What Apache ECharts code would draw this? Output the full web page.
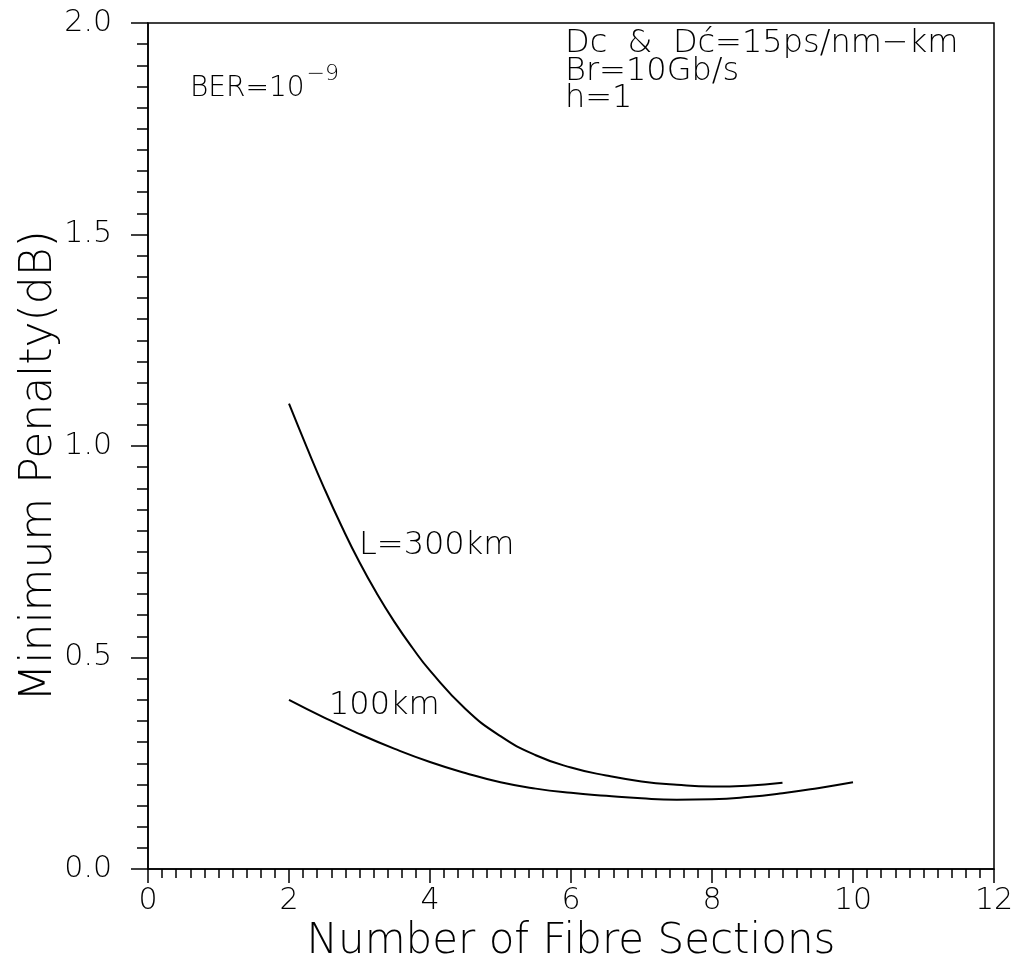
<!DOCTYPE html>
<html>
<head>
<meta charset="utf-8">
<script src="https://cdn.jsdelivr.net/npm/echarts@6/dist/echarts.min.js"></script>
<style>html,body{margin:0;padding:0;background:#fff}#c{width:1027px;height:961px}</style>
</head>
<body>
<div id="c"></div>
<script>
// Data
const x300 = [2, 2.25, 2.5, 2.75, 3, 3.25, 3.5, 3.75, 4, 4.5, 5, 5.5, 6, 6.5, 7, 7.5, 8, 8.5, 9];
const y300 = [1.10, 0.998, 0.900, 0.809, 0.725, 0.650, 0.583, 0.523, 0.469, 0.379, 0.314, 0.269, 0.240, 0.221, 0.207, 0.199, 0.195, 0.197, 0.204];
const x100 = [2, 2.5, 3, 3.5, 4, 4.5, 5, 5.5, 6, 6.5, 7, 7.5, 8, 8.5, 9, 9.5, 10];
const y100 = [0.400, 0.358, 0.319, 0.284, 0.253, 0.227, 0.205, 0.190, 0.180, 0.173, 0.167, 0.164, 0.165, 0.170, 0.179, 0.191, 0.205];
const xTicks = [0, 2, 4, 6, 8, 10, 12];
const yTicks = [0.0, 0.5, 1.0, 1.5, 2.0];
const xTitle = 'Number of Fibre Sections';
const yTitle = 'Minimum Penalty(dB)';

const FONT = 'DejaVu Sans';
const chart = echarts.init(document.getElementById('c'), null, {renderer: 'canvas'});
const pair = (xs, ys) => xs.map((x, i) => [x, ys[i]]);
const txt = (left, top, text, size) => ({type: 'text', left, top,
  style: {text, fontFamily: FONT, fontSize: size, fontWeight: 200, fill: '#000'}});

chart.setOption({
  backgroundColor: '#fff',
  animation: false,
  grid: {left: 148, right: 33, top: 23, bottom: 92, containLabel: false, outerBoundsMode: 'none',
    show: true, borderColor: '#000', borderWidth: 1.5, backgroundColor: 'transparent'},
  xAxis: {
    type: 'value', min: 0, max: 12, interval: 2,
    name: xTitle, nameLocation: 'middle', nameGap: 52, nameMoveOverlap: false,
    nameTextStyle: {fontFamily: FONT, fontSize: 42, fontWeight: 200, color: '#000'},
    axisLine: {show: true, onZero: false, lineStyle: {color: '#000', width: 1.5}},
    axisTick: {show: true, inside: false, length: 14, lineStyle: {color: '#000', width: 1.5}},
    minorTick: {show: true, splitNumber: 10, length: 9, lineStyle: {color: '#000', width: 1.5}},
    splitLine: {show: false},
    axisLabel: {fontFamily: FONT, fontSize: 30, fontWeight: 200, color: '#000', margin: 17,
      formatter: v => xTicks.includes(v) ? String(v) : ''}
  },
  yAxis: {
    type: 'value', min: 0, max: 2, interval: 0.5,
    name: yTitle, nameLocation: 'middle', nameGap: 86, nameMoveOverlap: false,
    nameTextStyle: {fontFamily: FONT, fontSize: 44, fontWeight: 200, color: '#000', padding: [0, 40, 0, 0]},
    axisLine: {show: true, onZero: false, lineStyle: {color: '#000', width: 1.5}},
    axisTick: {show: true, inside: false, length: 17, lineStyle: {color: '#000', width: 1.5}},
    minorTick: {show: true, splitNumber: 10, length: 11, lineStyle: {color: '#000', width: 1.5}},
    splitLine: {show: false},
    axisLabel: {fontFamily: FONT, fontSize: 30, fontWeight: 200, color: '#000', margin: 36,
      formatter: v => { const t = yTicks.find(k => Math.abs(k - v) < 1e-9); return t === undefined ? '' : t.toFixed(1); }}
  },
  series: [
    {type: 'line', data: pair(x300, y300), smooth: 0.5, showSymbol: false, lineStyle: {color: '#000', width: 2}},
    {type: 'line', data: pair(x100, y100), smooth: 0.5, showSymbol: false, lineStyle: {color: '#000', width: 2}}
  ],
  graphic: [
    {type: 'text', left: 190, top: 63, style: {
      text: '{a|BER=10}{b|−9}', fill: '#000',
      rich: {a: {fontFamily: FONT, fontSize: 28, fontWeight: 200, fill: '#000', verticalAlign: 'bottom'},
             b: {fontFamily: FONT, fontSize: 22, fontWeight: 200, fill: '#000', verticalAlign: 'top', padding: [0, 0, 18, 2]}}}},
    txt(565, 28, 'Dc  &  Dc\u0301=15ps/nm\u2212km', 32),
    txt(565, 56, 'Br=10Gb/s', 32),
    txt(565, 83, 'h=1', 32),
    txt(359, 530, 'L=300km', 32),
    txt(329, 690, '100km', 32)
  ]
});
</script>
</body>
</html>
